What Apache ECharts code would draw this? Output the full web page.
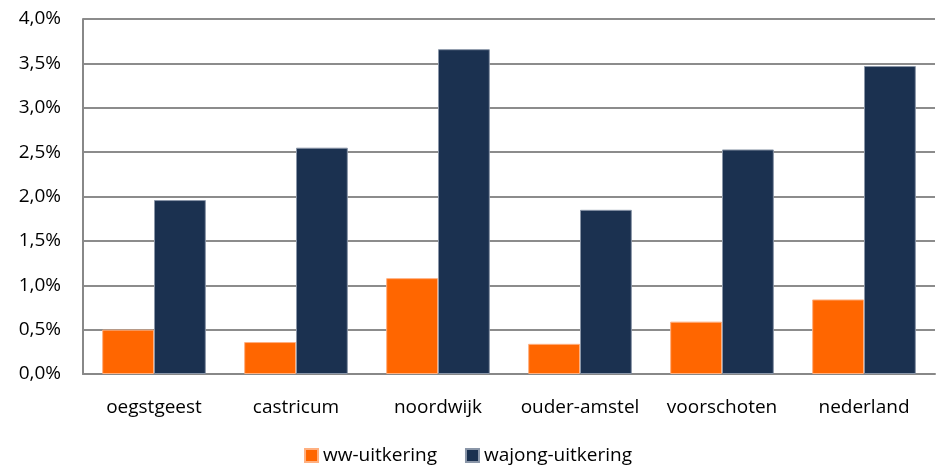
<!DOCTYPE html>
<html>
<head>
<meta charset="utf-8">
<script src="https://cdn.jsdelivr.net/npm/echarts@6/dist/echarts.min.js"></script>
<style>
  html, body { margin: 0; padding: 0; background: #fff; }
  #chart { width: 936px; height: 470px; }
</style>
</head>
<body>
<div id="chart"></div>
<script>
var categories = ['oegstgeest', 'castricum', 'noordwijk', 'ouder-amstel', 'voorschoten', 'nederland']
var wwUitkering = [0.50, 0.36, 1.08, 0.34, 0.59, 0.84]
var wajongUitkering = [1.96, 2.55, 3.66, 1.85, 2.53, 3.47]

var chart = echarts.init(document.getElementById('chart'))
var font = '"Open Sans", sans-serif'

var option = {
  animation: false,
  textStyle: { fontFamily: font },
  legend: {
    bottom: 0,
    left: 'center',
    itemWidth: 13,
    itemHeight: 13,
    itemGap: 28,
    icon: 'rect',
    textStyle: { fontSize: 19, color: '#000', fontFamily: font },
    data: ['ww-uitkering', 'wajong-uitkering']
  },
  grid: {
    left: 83,
    right: 1,
    top: 19,
    bottom: 96
  },
  xAxis: {
    type: 'category',
    data: categories,
    axisTick: { show: false },
    axisLine: { lineStyle: { color: '#888', width: 2 } },
    axisLabel: { interval: 0, fontSize: 19, color: '#000', margin: 24, fontFamily: font }
  },
  yAxis: {
    type: 'value',
    min: 0,
    max: 4,
    interval: 0.5,
    axisLine: { show: true, lineStyle: { color: '#888', width: 2 } },
    axisTick: { show: false },
    splitLine: { lineStyle: { color: '#8c8c8c', width: 2 } },
    axisLabel: {
      fontSize: 19,
      color: '#000',
      margin: 22,
      fontFamily: font,
      formatter: function (v) {
        return v.toFixed(1).replace('.', ',') + '%'
      }
    }
  },
  series: [
    {
      name: 'ww-uitkering',
      type: 'bar',
      barGap: 0,
      barCategoryGap: '27%',
      itemStyle: { color: '#ff6600', borderColor: '#ffb080', borderWidth: 1 },
      data: wwUitkering
    },
    {
      name: 'wajong-uitkering',
      type: 'bar',
      barGap: 0,
      barCategoryGap: '27%',
      itemStyle: { color: '#1b3150', borderColor: '#8a96a8', borderWidth: 1 },
      data: wajongUitkering
    }
  ]
}

chart.setOption(option)
</script>
</body>
</html>
